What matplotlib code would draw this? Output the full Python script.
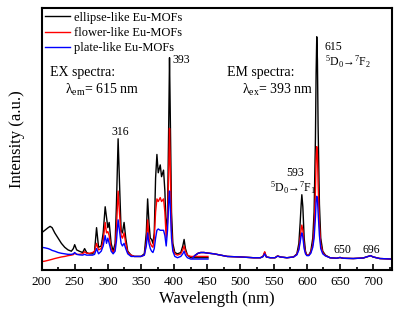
import matplotlib
matplotlib.use('Agg')
import matplotlib.pyplot as plt
from matplotlib.ticker import MultipleLocator

plt.rcParams['font.family'] = ['Liberation Serif', 'DejaVu Serif']
plt.rcParams['mathtext.fontset'] = 'custom'
plt.rcParams['mathtext.rm'] = 'Liberation Serif'
plt.rcParams['mathtext.it'] = 'Liberation Serif:italic'

# excitation spectra (lambda_em = 615 nm)
ex_nm = [200, 205, 210, 213, 216, 220, 225, 230, 235, 240, 245, 248, 250, 253, 257, 262, 265, 268,
         272, 277, 280, 283, 286, 290, 293, 296, 298, 300, 302, 305, 308, 311, 313, 315.5, 318, 320,
         322, 324.5, 327, 330, 335, 340, 350, 355, 358, 360, 362, 364, 366, 368, 370, 372, 374, 376,
         379, 381, 384, 386, 388, 390, 392, 393, 394, 396, 398, 401, 405, 410, 413, 415, 417, 420,
         425, 430, 440, 451]
ex_ellipse = [14, 15, 16, 16.5, 16, 14, 12, 10, 8.5, 7.5, 7, 8, 9.5, 7.5, 7, 6.5, 8, 6.5,
              6, 6, 7, 16, 8.5, 9, 14, 24, 20, 16, 18, 10, 7, 10, 25, 50, 30, 15,
              14, 18, 12, 7, 5.5, 5, 5, 6, 14, 27, 18, 12, 11.5, 10, 14, 35, 44, 37,
              40, 35.5, 38, 30, 15, 20, 60, 81, 62, 22, 10, 6.5, 6, 6.5, 9, 11.5, 8, 5.5,
              4.5, 4.5, 4.5, 4.5]
ex_flower = [3, 3.2, 3.5, 3.7, 3.9, 4.2, 4.5, 4.8, 5, 5.3, 5.5, 5.7, 6.2, 5.8, 5.8, 6, 6.8, 6.2,
             6.2, 6.5, 7, 10, 7.5, 8, 11, 18, 14, 14.5, 13, 8, 6.5, 8, 16, 30, 20, 13,
             12, 14, 10, 6.5, 5.5, 5, 5, 5.5, 10, 19, 12, 10, 9, 8.5, 12, 22, 27, 26,
             27.5, 26, 27, 22, 12, 18, 40, 54, 42, 15, 8, 6, 5.5, 6, 7.5, 9, 7, 5.5,
             5, 5, 5, 5]
ex_plate = [8.5, 8.3, 8, 7.7, 7.3, 7, 6.5, 6.2, 6, 5.8, 5.8, 6, 6.5, 5.8, 5.6, 5.5, 5.8, 5.5,
            5.5, 5.5, 5.8, 8, 6, 7, 9, 13, 10, 12, 10, 7, 6, 7, 11, 19, 14, 10,
            9, 10, 8, 6, 5, 5, 5, 5.5, 9, 14, 10, 8, 7, 6.5, 8, 12, 15, 15.5,
            15, 15, 15, 13, 9, 15, 27, 30, 25, 12, 7, 5, 4.5, 5, 6, 7, 5.5, 4.5,
            4, 4, 4, 4]

# emission spectra (lambda_ex = 393 nm)
em_nm = [428, 432, 436, 440, 445, 450, 460, 470, 480, 500, 520, 530, 534, 536.5, 539, 545, 552, 556,
         560, 570, 580, 585, 588, 590, 591.5, 592.5, 594, 596, 598, 600, 603, 606, 609, 611, 613, 614,
         615, 616, 617, 619, 621, 624, 628, 635, 645, 650, 655, 670, 685, 690, 696, 700, 710, 729]
em_ellipse = [4.5, 5.5, 6.2, 6.5, 6.5, 6.3, 6, 5.5, 5, 4.8, 4.5, 4.5, 5, 6.5, 4.8, 4.5, 4.5, 5.2,
              4.8, 4.5, 4.8, 6, 10, 18, 25, 28.6, 24, 12, 7, 5.5, 5.5, 7, 12, 22, 50, 75,
              89, 80, 55, 25, 12, 7, 5.5, 4.5, 4.3, 4.6, 4.3, 4.2, 4.4, 4.8, 5.3, 4.8, 4.2, 4]
em_flower = [4.5, 5.5, 6.2, 6.5, 6.5, 6.3, 6, 5.5, 5, 4.8, 4.5, 4.5, 5.1, 6.8, 4.8, 4.5, 4.5, 5.2,
             4.8, 4.5, 4.8, 5.8, 8, 12, 15.5, 17, 15, 9, 6.5, 5.5, 5.5, 6.5, 9.5, 15, 30, 42,
             47, 44, 33, 17, 9.5, 6.5, 5.3, 4.5, 4.3, 4.6, 4.3, 4.2, 4.4, 4.8, 5.3, 4.8, 4.2, 4]
em_plate = [4.5, 5.5, 6.2, 6.5, 6.5, 6.3, 6, 5.5, 5, 4.8, 4.5, 4.5, 4.9, 6, 4.8, 4.5, 4.5, 5.1,
            4.8, 4.5, 4.8, 5.6, 7.5, 10.5, 13, 14, 12.5, 8, 6, 5.3, 5.3, 6.2, 8.5, 12, 20, 26,
            28, 27, 22, 13, 8, 6, 5.2, 4.5, 4.3, 4.6, 4.3, 4.2, 4.4, 4.8, 5.3, 4.8, 4.2, 4]

labels = ['ellipse-like Eu-MOFs', 'flower-like Eu-MOFs', 'plate-like Eu-MOFs']
colors = ['black', '#ff0000', '#0000ff']

fig = plt.figure(figsize=(4.01, 3.30), dpi=100)
ax = fig.add_axes([0.1035, 0.1833, 0.875, 0.7924])

for ex, em, lab, c in zip([ex_ellipse, ex_flower, ex_plate], [em_ellipse, em_flower, em_plate],
                          labels, colors):
    ax.plot(ex_nm, ex, color=c, lw=1.0, label=lab)
    ax.plot(em_nm, em, color=c, lw=1.0)

ax.set_xlim(200, 729)
ax.set_ylim(0, 100)
ax.xaxis.set_major_locator(MultipleLocator(50))
ax.xaxis.set_minor_locator(MultipleLocator(25))
ax.set_yticks([])
ax.tick_params(axis='x', which='major', direction='in', length=4, width=1.2, labelsize=9.5, pad=5)
ax.tick_params(axis='x', which='minor', direction='in', length=2.5, width=1.2)
for s in ax.spines.values():
    s.set_linewidth(1.5)

ax.set_xlabel('Wavelength (nm)', fontsize=12, labelpad=2)
ax.set_ylabel('Intensity (a.u.)', fontsize=12, labelpad=12)

ax.legend(loc='upper left', bbox_to_anchor=(0.0, 1.0), frameon=False, fontsize=9,
          handlelength=2.0, handletextpad=0.3, labelspacing=0.25, borderpad=0.2,
          borderaxespad=0.1)

ax.text(212.8, 75.5, 'EX spectra:', fontsize=10, ha='left', va='center')
ax.text(235, 68.6, r'λ$_{\rm em}$= 615 nm', fontsize=10, ha='left', va='center')
ax.text(479.5, 75.5, 'EM spectra:', fontsize=10, ha='left', va='center')
ax.text(502, 68.6, r'λ$_{\rm ex}$= 393 nm', fontsize=10, ha='left', va='center')

ax.text(398, 80, '393', fontsize=8.5, ha='left', va='center')
ax.text(318, 52.6, '316', fontsize=8.5, ha='center', va='center')
ax.text(627, 85, '615', fontsize=8.5, ha='left', va='center')
ax.text(627, 79.3, r'$^5$D$_0$→$^7$F$_2$', fontsize=8.5, ha='left', va='center')
ax.text(582.8, 36.9, '593', fontsize=8.5, ha='center', va='center')
ax.text(579, 31.2, r'$^5$D$_0$→$^7$F$_1$', fontsize=8.5, ha='center', va='center')
ax.text(653.6, 7.5, '650', fontsize=8.5, ha='center', va='center')
ax.text(696.5, 7.5, '696', fontsize=8.5, ha='center', va='center')

fig.savefig('out.png', dpi=100)
